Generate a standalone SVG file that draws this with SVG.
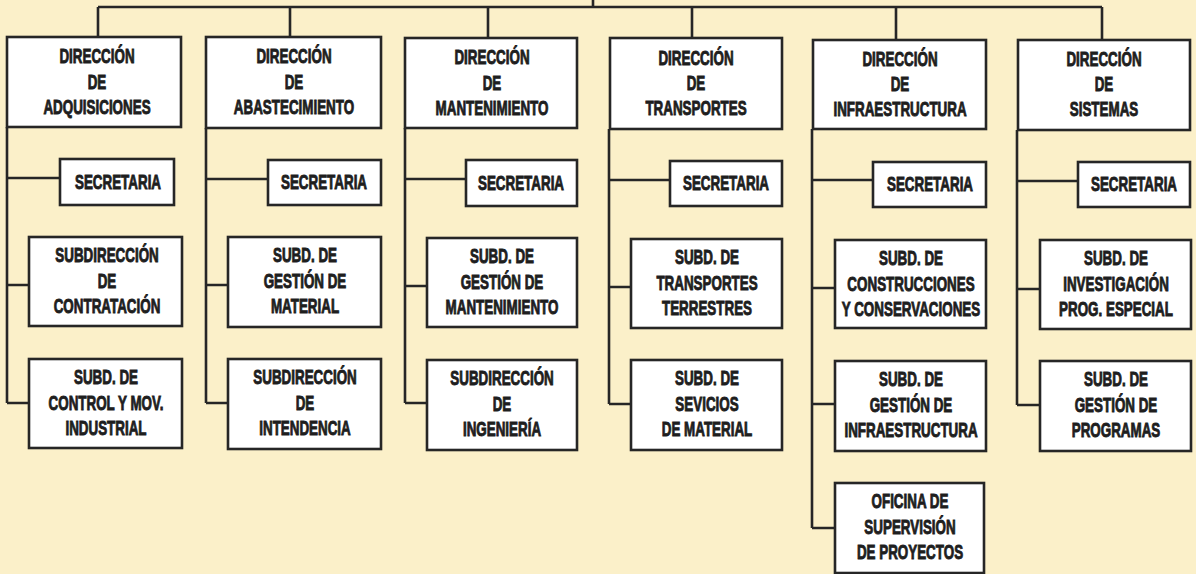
<svg xmlns="http://www.w3.org/2000/svg" width="1196" height="574" viewBox="0 0 1196 574">
<style>
.bg{fill:#fbf0c9}
.box{fill:#ffffff;stroke:#262626;stroke-width:2.6}
.ln{fill:none;stroke:#262626;stroke-width:2.6}
text{font-family:"Liberation Sans",Arial,sans-serif;font-weight:bold;font-size:20px;fill:#1e1e1e;text-anchor:middle;stroke:#1e1e1e;stroke-width:0.9}
</style>
<rect class="bg" x="0" y="0" width="1196" height="574"/>
<g id="connectors">
<path class="ln" d="M593,0V7M98,7H1102M98,7V37M290,7V37M488,7V38M692,7V38M896,7V40M1102,7V40"/>
<path class="ln" d="M7,127V403M7,178H60M7,285H29M7,403H29"/>
<path class="ln" d="M206,128V403M206,179H268M206,285H228M206,403H228"/>
<path class="ln" d="M405,128V403M405,179H466M405,286H427M405,403H427"/>
<path class="ln" d="M609,129V404M609,180H670M609,287H631M609,404H631"/>
<path class="ln" d="M812,129V528M812,180H873M812,288H835M812,404H835M812,528H835"/>
<path class="ln" d="M1017,130V405M1017,181H1078M1017,289H1040M1017,405H1040"/>
</g>
<g id="dir-adquisiciones"><rect class="box" x="7" y="37" width="174" height="90"/><g transform="translate(97,0) scale(0.67,1)"><text x="0" y="63">DIRECCIÓN</text><text x="0" y="89">DE</text><text x="0" y="114">ADQUISICIONES</text></g></g>
<g id="sec-1"><rect class="box" x="60" y="159" width="114" height="46"/><g transform="translate(118,0) scale(0.67,1)"><text x="0" y="189">SECRETARIA</text></g></g>
<g id="sub-contratacion"><rect class="box" x="29" y="237" width="153" height="89"/><g transform="translate(107,0) scale(0.67,1)"><text x="0" y="262">SUBDIRECCIÓN</text><text x="0" y="288">DE</text><text x="0" y="313">CONTRATACIÓN</text></g></g>
<g id="sub-control"><rect class="box" x="29" y="359" width="153" height="89"/><g transform="translate(106,0) scale(0.67,1)"><text x="0" y="384">SUBD. DE</text><text x="0" y="410">CONTROL Y MOV.</text><text x="0" y="435">INDUSTRIAL</text></g></g>

<g id="dir-abastecimiento"><rect class="box" x="206" y="37" width="175" height="91"/><g transform="translate(294,0) scale(0.67,1)"><text x="0" y="63">DIRECCIÓN</text><text x="0" y="89">DE</text><text x="0" y="114">ABASTECIMIENTO</text></g></g>
<g id="sec-2"><rect class="box" x="268" y="160" width="113" height="45"/><g transform="translate(324,0) scale(0.67,1)"><text x="0" y="189">SECRETARIA</text></g></g>
<g id="sub-gestion-material"><rect class="box" x="228" y="237" width="153" height="90"/><g transform="translate(305,0) scale(0.67,1)"><text x="0" y="262">SUBD. DE</text><text x="0" y="288">GESTIÓN DE</text><text x="0" y="313">MATERIAL</text></g></g>
<g id="sub-intendencia"><rect class="box" x="228" y="359" width="153" height="90"/><g transform="translate(305,0) scale(0.67,1)"><text x="0" y="384">SUBDIRECCIÓN</text><text x="0" y="410">DE</text><text x="0" y="435">INTENDENCIA</text></g></g>

<g id="dir-mantenimiento"><rect class="box" x="405" y="38" width="172" height="90"/><g transform="translate(492,0) scale(0.67,1)"><text x="0" y="64">DIRECCIÓN</text><text x="0" y="90">DE</text><text x="0" y="115">MANTENIMIENTO</text></g></g>
<g id="sec-3"><rect class="box" x="466" y="160" width="111" height="46"/><g transform="translate(521,0) scale(0.67,1)"><text x="0" y="190">SECRETARIA</text></g></g>
<g id="sub-gestion-mant"><rect class="box" x="427" y="238" width="150" height="89"/><g transform="translate(502,0) scale(0.67,1)"><text x="0" y="263">SUBD. DE</text><text x="0" y="289">GESTIÓN DE</text><text x="0" y="314">MANTENIMIENTO</text></g></g>
<g id="sub-ingenieria"><rect class="box" x="427" y="360" width="150" height="90"/><g transform="translate(502,0) scale(0.67,1)"><text x="0" y="385">SUBDIRECCIÓN</text><text x="0" y="411">DE</text><text x="0" y="436">INGENIERÍA</text></g></g>

<g id="dir-transportes"><rect class="box" x="610" y="38" width="172" height="91"/><g transform="translate(696,0) scale(0.67,1)"><text x="0" y="65">DIRECCIÓN</text><text x="0" y="90">DE</text><text x="0" y="115">TRANSPORTES</text></g></g>
<g id="sec-4"><rect class="box" x="670" y="161" width="112" height="45"/><g transform="translate(726,0) scale(0.67,1)"><text x="0" y="190">SECRETARIA</text></g></g>
<g id="sub-transp-terrestres"><rect class="box" x="631" y="239" width="151" height="89"/><g transform="translate(707,0) scale(0.67,1)"><text x="0" y="264">SUBD. DE</text><text x="0" y="290">TRANSPORTES</text><text x="0" y="315">TERRESTRES</text></g></g>
<g id="sub-servicios-material"><rect class="box" x="631" y="360" width="151" height="90"/><g transform="translate(707,0) scale(0.67,1)"><text x="0" y="385">SUBD. DE</text><text x="0" y="411">SEVICIOS</text><text x="0" y="436">DE MATERIAL</text></g></g>

<g id="dir-infraestructura"><rect class="box" x="813" y="40" width="173" height="89"/><g transform="translate(900,0) scale(0.67,1)"><text x="0" y="66">DIRECCIÓN</text><text x="0" y="91">DE</text><text x="0" y="116">INFRAESTRUCTURA</text></g></g>
<g id="sec-5"><rect class="box" x="873" y="162" width="113" height="45"/><g transform="translate(930,0) scale(0.67,1)"><text x="0" y="191">SECRETARIA</text></g></g>
<g id="sub-construcciones"><rect class="box" x="835" y="240" width="151" height="88"/><g transform="translate(911,0) scale(0.67,1)"><text x="0" y="265">SUBD. DE</text><text x="0" y="291">CONSTRUCCIONES</text><text x="0" y="316">Y CONSERVACIONES</text></g></g>
<g id="sub-gestion-infra"><rect class="box" x="835" y="361" width="151" height="90"/><g transform="translate(911,0) scale(0.67,1)"><text x="0" y="386">SUBD. DE</text><text x="0" y="412">GESTIÓN DE</text><text x="0" y="437">INFRAESTRUCTURA</text></g></g>
<g id="oficina-supervision"><rect class="box" x="835" y="483" width="149" height="90"/><g transform="translate(910,0) scale(0.67,1)"><text x="0" y="508">OFICINA DE</text><text x="0" y="534">SUPERVISIÓN</text><text x="0" y="559">DE PROYECTOS</text></g></g>

<g id="dir-sistemas"><rect class="box" x="1018" y="40" width="172" height="90"/><g transform="translate(1104,0) scale(0.67,1)"><text x="0" y="66">DIRECCIÓN</text><text x="0" y="91">DE</text><text x="0" y="116">SISTEMAS</text></g></g>
<g id="sec-6"><rect class="box" x="1078" y="162" width="112" height="45"/><g transform="translate(1134,0) scale(0.67,1)"><text x="0" y="191">SECRETARIA</text></g></g>
<g id="sub-investigacion"><rect class="box" x="1040" y="240" width="151" height="89"/><g transform="translate(1116,0) scale(0.67,1)"><text x="0" y="265">SUBD. DE</text><text x="0" y="291">INVESTIGACIÓN</text><text x="0" y="316">PROG. ESPECIAL</text></g></g>
<g id="sub-gestion-programas"><rect class="box" x="1040" y="361" width="151" height="90"/><g transform="translate(1116,0) scale(0.67,1)"><text x="0" y="386">SUBD. DE</text><text x="0" y="412">GESTIÓN DE</text><text x="0" y="437">PROGRAMAS</text></g></g>
</svg>
